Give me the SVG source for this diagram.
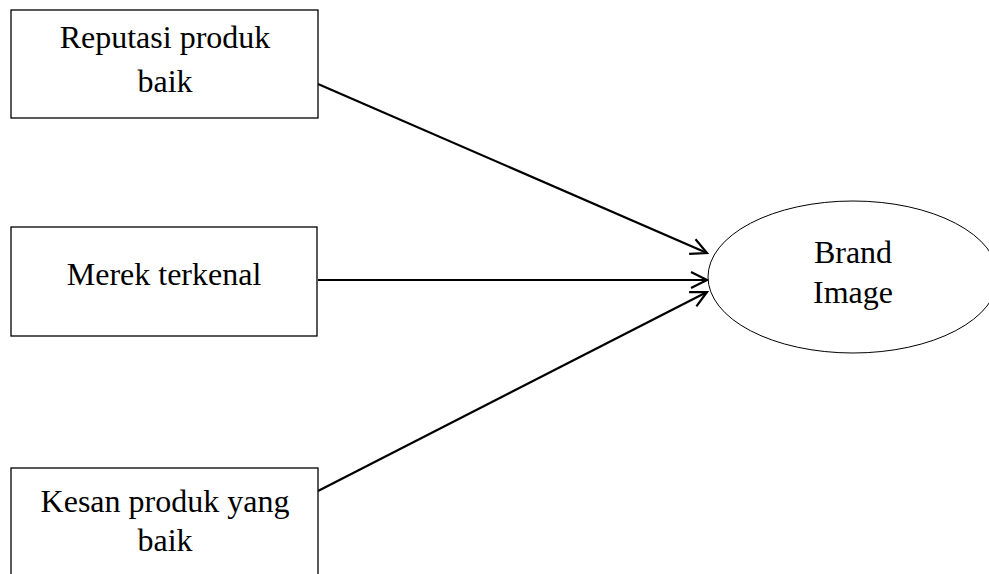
<svg xmlns="http://www.w3.org/2000/svg" width="989" height="574" viewBox="0 0 989 574">
  <defs>
    <style>
      .box { fill: #ffffff; stroke: #000000; stroke-width: 1.3; }
      .oval { fill: #ffffff; stroke: #000000; stroke-width: 1; }
      .label { font-family: "Liberation Serif", "Times New Roman", serif; font-size: 32px; fill: #000000; text-anchor: middle; }
      .link { fill: none; stroke: #000000; stroke-width: 2.2; marker-end: url(#openArrow); }
    </style>
    <marker id="openArrow" viewBox="0 0 20 20" refX="18" refY="10" markerWidth="20" markerHeight="20" markerUnits="userSpaceOnUse" orient="auto">
      <path d="M2,2 L18,10 L2,18" fill="none" stroke="#000000" stroke-width="2.2"/>
    </marker>
  </defs>
  <rect width="989" height="574" fill="#ffffff"/>

  <g id="connectors">
    <line class="link" x1="318" y1="84" x2="707" y2="253"/>
    <line class="link" x1="318" y1="280" x2="707" y2="280"/>
    <line class="link" x1="318" y1="491" x2="707" y2="292"/>
  </g>

  <g id="node-reputasi">
    <rect class="box" x="11" y="10" width="307" height="108"/>
    <text class="label" x="165" y="48">Reputasi produk</text>
    <text class="label" x="165" y="92">baik</text>
  </g>

  <g id="node-merek">
    <rect class="box" x="11" y="227" width="306" height="109"/>
    <text class="label" x="164" y="285">Merek terkenal</text>
  </g>

  <g id="node-kesan">
    <rect class="box" x="11" y="468" width="307" height="140"/>
    <text class="label" x="165" y="512">Kesan produk yang</text>
    <text class="label" x="165" y="551">baik</text>
  </g>

  <g id="node-brand-image">
    <ellipse class="oval" cx="853" cy="277" rx="145" ry="76"/>
    <text class="label" x="853" y="263">Brand</text>
    <text class="label" x="853" y="303">Image</text>
  </g>
</svg>
